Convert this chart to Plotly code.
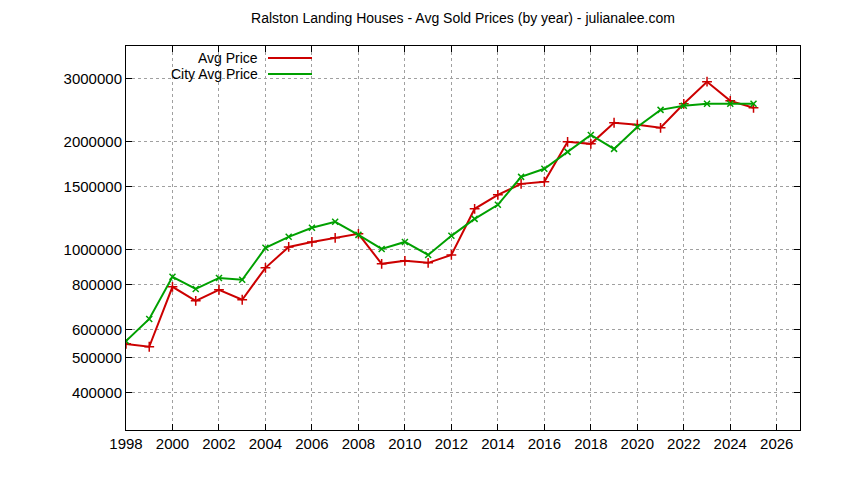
import plotly.graph_objects as go

years = list(range(1998, 2026))
avg_price = [547000, 537000, 789000, 721000, 774000, 726000, 891000, 1019000, 1052000, 1080000,
             1108000, 914000, 932000, 920000, 968000, 1301000, 1423000, 1527000, 1548000, 2000000,
             1974000, 2260000, 2232000, 2188000, 2552000, 2941000, 2601000, 2488000]
city_avg = [557000, 642000, 841000, 778000, 835000, 825000, 1013000, 1087000, 1152000, 1197000,
            1101000, 1006000, 1052000, 968000, 1094000, 1220000, 1335000, 1597000, 1682000, 1875000,
            2090000, 1911000, 2200000, 2455000, 2520000, 2552000, 2552000, 2552000]
ytick_vals = [400000, 500000, 600000, 800000, 1000000, 1500000, 2000000, 3000000]
xtick_vals = list(range(1998, 2027, 2))

fig = go.Figure()
fig.add_trace(go.Scatter(x=years, y=avg_price, mode="lines+markers", name="Avg Price",
                         line=dict(color="#cc0000", width=2),
                         marker=dict(symbol="cross-thin", size=7, line=dict(color="#cc0000", width=1.5))))
fig.add_trace(go.Scatter(x=years, y=city_avg, mode="lines+markers", name="City Avg Price",
                         line=dict(color="#00a000", width=2),
                         marker=dict(symbol="x-thin", size=6, line=dict(color="#00a000", width=1.5))))

axis_common = dict(showline=True, mirror="ticks", linecolor="black", linewidth=1, ticks="inside",
                   ticklen=6, tickcolor="black", showgrid=True, gridcolor="#a0a0a0", griddash="dot",
                   gridwidth=1, zeroline=False, tickfont=dict(size=15, color="black"))
fig.update_xaxes(range=[1998, 2027], tickvals=xtick_vals, **axis_common)
fig.update_yaxes(type="log", range=[5.498, 6.568], tickvals=ytick_vals,
                 ticktext=[str(v) for v in ytick_vals], **axis_common)

fig.update_layout(
    width=844, height=480, plot_bgcolor="white", paper_bgcolor="white",
    margin=dict(l=118, r=52, t=38, b=58),
    font=dict(family="Liberation Sans, Arial", size=14, color="black"),
    title=dict(text="Ralston Landing Houses - Avg Sold Prices (by year) - julianalee.com",
               x=(118 + 674 / 2) / 844, xanchor="center", y=0.99, yanchor="top", font=dict(size=14)),
    showlegend=False,
)
# gnuplot-style legend
for i, (txt, col) in enumerate([("Avg Price", "#cc0000"), ("City Avg Price", "#00a000")]):
    yy = 1 - (12 + 16 * i) / 384
    fig.add_annotation(xref="paper", yref="paper", x=(260 - 126) / 674, y=yy, text=txt,
                       showarrow=False, xanchor="right", yanchor="middle", font=dict(size=14))
    fig.add_shape(type="line", xref="paper", yref="paper", x0=(268 - 126) / 674, x1=(312 - 126) / 674,
                  y0=yy, y1=yy, line=dict(color=col, width=2))

fig.write_html("out.html")
